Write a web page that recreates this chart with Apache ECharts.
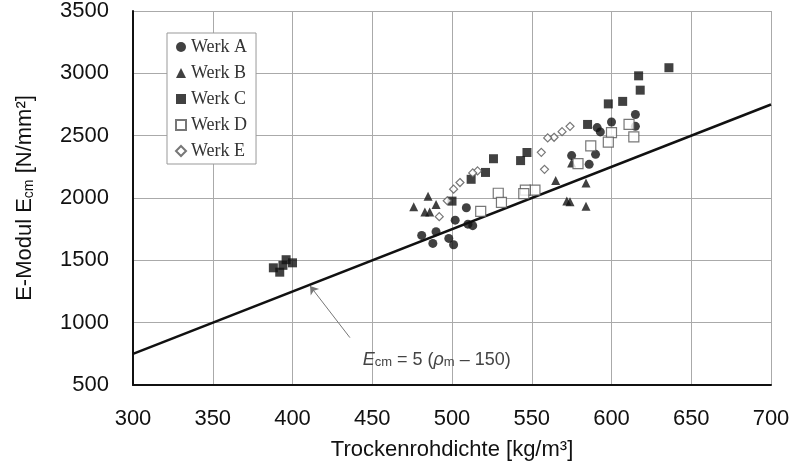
<!DOCTYPE html>
<html>
<head>
<meta charset="utf-8">
<script src="https://cdn.jsdelivr.net/npm/echarts@6/dist/echarts.min.js"></script>
<style>
  html, body { margin: 0; padding: 0; background: #fff; }
  #chart { width: 797px; height: 466px; }
</style>
</head>
<body>
<div id="chart"></div>
<script>
// Werte [Trockenrohdichte, E-Modul]
const werkA = [[615,2670],[615,2575],[600,2610],[591,2565],[593,2530],[575,2340],[590,2350],[586,2270],
  [509,1922],[502,1822],[490,1730],[481,1700],[488,1636],[498,1676],[501,1625],[510,1790],[513,1778]];
const werkB = [[485,2014],[476,1929],[490,1948],[483,1887],[486,1887],[575,2280],[565,2140],[584,2121],
  [572,1975],[574,1970],[584,1934]];
const werkC = [[636,3045],[617,2980],[618,2865],[607,2775],[598,2755],[585,2590],[547,2365],[543,2300],
  [526,2315],[521,2205],[512,2150],[500,1975],[388,1440],[392,1405],[394,1460],[396,1505],[400,1480]];
const werkD = [[611,2590],[614,2490],[600,2524],[598,2448],[587,2418],[579,2276],[552,2063],[546,2063],
  [545,2035],[529,2038],[531,1965],[518,1893]];
const werkE = [[574,2575],[569,2532],[564,2487],[560,2482],[556,2366],[558,2230],[516,2217],[513,2201],
  [505,2124],[501,2071],[497,1978],[492,1850]];

// Ecm = 5 (rho - 150)
const lineX = [300, 700];
const lineY = [750, 2750];

const xTicks = [300, 350, 400, 450, 500, 550, 600, 650, 700];
const yTicks = [500, 1000, 1500, 2000, 2500, 3000, 3500];

const chart = echarts.init(document.getElementById('chart'));

function scatter(name, data, symbol, size, filled) {
  return {
    name: name,
    type: 'scatter',
    data: data,
    symbol: symbol,
    symbolSize: size,
    itemStyle: filled
      ? { color: '#111' }
      : { color: '#fff', borderColor: '#555', borderWidth: 1.2 },
    z: 3
  };
}

chart.setOption({
  animation: false,
  backgroundColor: '#fff',
  grid: { left: 133, right: 26, top: 11, bottom: 80 },
  legend: {
    orient: 'vertical',
    left: 167,
    top: 33,
    backgroundColor: '#fff',
    borderColor: '#999',
    borderWidth: 1,
    padding: [5, 9, 4, 8],
    itemGap: 8,
    itemWidth: 10,
    itemHeight: 10,
    textStyle: { fontFamily: 'Liberation Serif', fontSize: 18, color: '#333' },
    data: ['Werk A', 'Werk B', 'Werk C', 'Werk D', 'Werk E']
  },
  xAxis: {
    type: 'value',
    min: xTicks[0],
    max: xTicks[xTicks.length - 1],
    interval: 50,
    name: 'Trockenrohdichte [kg/m³]',
    nameLocation: 'middle',
    nameGap: 54,
    nameTextStyle: { fontFamily: 'Liberation Sans', fontSize: 22, color: '#111' },
    axisLine: { lineStyle: { color: '#111', width: 2 } },
    axisTick: { show: false },
    axisLabel: { margin: 23, fontFamily: 'Liberation Sans', fontSize: 22, color: '#111' },
    splitLine: { lineStyle: { color: '#aaa', width: 1 } }
  },
  yAxis: {
    type: 'value',
    min: yTicks[0],
    max: yTicks[yTicks.length - 1],
    interval: 500,
    name: 'E-Modul E{sub|cm} [N/mm²]',
    nameLocation: 'middle',
    nameGap: 97,
    nameTextStyle: {
      fontFamily: 'Liberation Sans', fontSize: 22, color: '#111',
      rich: { sub: { fontFamily: 'Liberation Sans', fontSize: 14, color: '#111', verticalAlign: 'bottom' } }
    },
    axisLine: { show: true, lineStyle: { color: '#111', width: 2 } },
    axisTick: { show: false },
    axisLabel: {
      margin: 24, fontFamily: 'Liberation Sans', fontSize: 22, color: '#111',
      formatter: v => String(v)
    },
    splitLine: { lineStyle: { color: '#aaa', width: 1 } }
  },
  series: [
    scatter('Werk A', werkA, 'circle', 9, true),
    scatter('Werk B', werkB, 'triangle', 9, true),
    scatter('Werk C', werkC, 'rect', 9, true),
    scatter('Werk D', werkD, 'rect', 10, false),
    scatter('Werk E', werkE, 'diamond', 8, false),
    {
      name: 'Ecm',
      type: 'line',
      data: lineX.map((x, i) => [x, lineY[i]]),
      symbol: 'none',
      lineStyle: { color: '#111', width: 2.5 },
      z: 2,
      markLine: {
        silent: true,
        symbol: ['none', 'arrow'],
        symbolSize: 8,
        lineStyle: { color: '#777', width: 1, type: 'solid' },
        label: { show: false },
        data: [[{ coord: [436, 880] }, { coord: [411, 1295] }]]
      },
      markPoint: {
        silent: true,
        symbol: 'circle',
        symbolSize: 0,
        data: [{ coord: [444, 700] }],
        label: {
          show: true,
          position: 'right',
          distance: 0,
          formatter: '{i|E}{s|cm} = 5 ({i|ρ}{s|m} – 150)',
          fontFamily: 'Liberation Sans',
          fontSize: 18,
          color: '#444',
          rich: {
            i: { fontFamily: 'Liberation Sans', fontStyle: 'italic', fontSize: 18, color: '#444' },
            s: { fontFamily: 'Liberation Sans', fontSize: 13, color: '#444', verticalAlign: 'bottom' }
          }
        }
      }
    }
  ]
});
</script>
</body>
</html>
